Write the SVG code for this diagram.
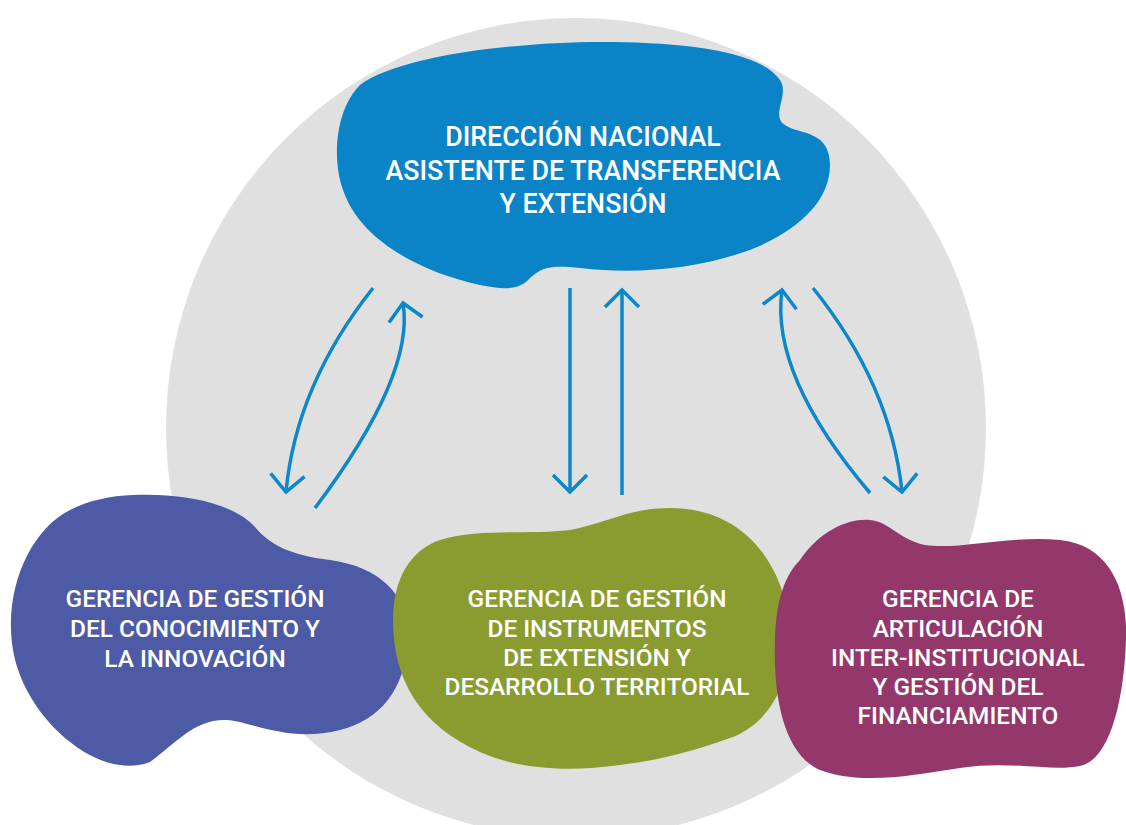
<svg xmlns="http://www.w3.org/2000/svg" width="1126" height="825" viewBox="0 0 1126 825">
<defs>
<style>
.lbl{font-family:Roboto,"Liberation Sans",sans-serif;font-weight:500;fill:#ffffff;text-anchor:middle}
.top{font-size:26.8px}
.sub{font-size:24.4px}
.arr{fill:none;stroke:#0b87ca;stroke-width:3.5}
</style>
<marker id="chev" markerUnits="userSpaceOnUse" orient="auto" markerWidth="40" markerHeight="40" refX="0" refY="0" viewBox="-20 -20 40 40" overflow="visible">
<path d="M -17,-17 L 0,0 L -17,17" fill="none" stroke="#0b87ca" stroke-width="3.5"/>
</marker>
</defs>
<rect width="1126" height="825" fill="#ffffff"/>
<circle cx="576" cy="428" r="410" fill="#e0e0e0"/>
<g id="node-direccion">
<path d="M 360,85 C 400,55 520,42 600,42 C 680,42 760,50 780,80 C 790,95 770,115 785,125 C 800,135 830,130 830,165 C 830,200 800,230 750,250 C 700,268 640,275 580,268 C 545,264 540,270 530,278 C 520,290 505,290 480,285 C 420,272 360,240 343,190 C 332,160 335,110 360,85 Z" fill="#0a84c6"/>
<text class="lbl top" x="583" y="146">DIRECCIÓN NACIONAL</text>
<text class="lbl top" x="583" y="180">ASISTENTE DE TRANSFERENCIA</text>
<text class="lbl top" x="583" y="213">Y EXTENSIÓN</text>
</g>
<g id="connectors">
<path class="arr" d="M 373,288 Q 296,385 286,492" marker-end="url(#chev)"/>
<path class="arr" d="M 315,508 Q 415,375 403,303" marker-end="url(#chev)"/>
<path class="arr" d="M 570,288 L 570,492" marker-end="url(#chev)"/>
<path class="arr" d="M 622,495 L 622,290" marker-end="url(#chev)"/>
<path class="arr" d="M 870,493 Q 770,375 782,290" marker-end="url(#chev)"/>
<path class="arr" d="M 813,288 Q 891,385 902,492" marker-end="url(#chev)"/>
</g>
<g id="node-conocimiento">
<path d="M 133,495 C 190,493 235,505 255,527 C 270,545 290,555 330,560 C 380,567 410,595 408,640 C 405,690 380,720 340,730 C 300,740 270,730 240,722 C 200,712 180,740 150,762 C 100,782 25,720 13,650 C 3,590 30,530 70,510 C 90,500 110,496 133,495 Z" fill="#4d5ba6"/>
<text class="lbl sub" x="195" y="607">GERENCIA DE GESTIÓN</text>
<text class="lbl sub" x="195" y="637">DEL CONOCIMIENTO Y</text>
<text class="lbl sub" x="195" y="667">LA INNOVACIÓN</text>
</g>
<g id="node-instrumentos">
<path d="M 440,540 C 480,528 530,535 570,530 C 610,522 630,508 670,508 C 730,508 770,545 785,600 C 800,660 780,720 730,738 C 690,752 660,760 620,765 C 570,772 520,770 480,752 C 420,725 393,680 393,620 C 393,580 410,550 440,540 Z" fill="#8a9b2f"/>
<text class="lbl sub" x="597" y="607">GERENCIA DE GESTIÓN</text>
<text class="lbl sub" x="597" y="637">DE INSTRUMENTOS</text>
<text class="lbl sub" x="597" y="666">DE EXTENSIÓN Y</text>
<text class="lbl sub" x="597" y="695">DESARROLLO TERRITORIAL</text>
</g>
<g id="node-articulacion">
<path d="M 800,560 C 820,530 850,518 870,520 C 890,522 900,540 925,545 C 960,550 1010,535 1060,540 C 1110,545 1128,590 1126,640 C 1124,700 1110,760 1080,766 C 1050,772 1010,760 960,768 C 910,776 860,785 820,770 C 785,755 773,700 775,640 C 776,600 785,575 800,560 Z" fill="#94386c"/>
<text class="lbl sub" x="958" y="607">GERENCIA DE</text>
<text class="lbl sub" x="958" y="637">ARTICULACIÓN</text>
<text class="lbl sub" x="958" y="666">INTER-INSTITUCIONAL</text>
<text class="lbl sub" x="958" y="695">Y GESTIÓN DEL</text>
<text class="lbl sub" x="958" y="724">FINANCIAMIENTO</text>
</g>
</svg>
